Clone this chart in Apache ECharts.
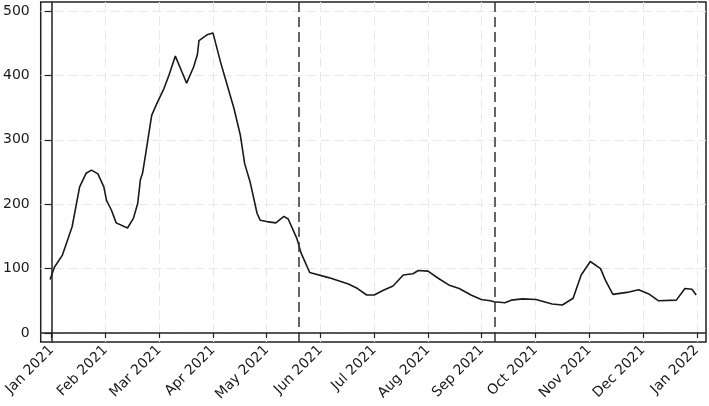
<!DOCTYPE html>
<html>
<head>
<meta charset="utf-8">
<script src="https://cdn.jsdelivr.net/npm/echarts@6/dist/echarts.min.js"></script>
<style>
	html, body {
		margin: 0;
		padding: 0;
		background: #fff;
	}
	#main {
		width: 709px;
		height: 406px;
	}
</style>
</head>
<body>
<div id="main"></div>
<script>
	// x position in months since Jan 2021 (0 = Jan 2021, 12 = Jan 2022)
	const monthPos = [-0.03, 0.05, 0.20, 0.38, 0.52, 0.64, 0.74, 0.86, 0.97, 1.02, 1.11, 1.20, 1.41, 1.52, 1.60, 1.65,
		1.69, 1.75, 1.86, 1.96, 2.09, 2.18, 2.30, 2.41, 2.51, 2.64, 2.71, 2.74, 2.89, 3.00, 3.14, 3.22, 3.39, 3.51,
		3.59, 3.69, 3.82, 3.88, 4.00, 4.17, 4.32, 4.40, 4.56, 4.64, 4.80, 5.15, 5.52, 5.69, 5.86, 6.00, 6.16, 6.35,
		6.54, 6.72, 6.82, 7.00, 7.19, 7.40, 7.58, 7.80, 7.99, 8.16, 8.23, 8.43, 8.55, 8.76, 9.01, 9.31, 9.50, 9.70,
		9.85, 10.02, 10.21, 10.30, 10.44, 10.70, 10.92, 11.12, 11.29, 11.62, 11.78, 11.91, 11.99
	]
	const values = [83, 102, 121, 165, 227, 248, 253, 247, 227, 206, 191, 171, 163, 178, 201, 238,
		248, 279, 338, 357, 380, 400, 430, 408, 388, 413, 432, 454, 463, 466, 421, 398, 349, 307,
		263, 235, 186, 175, 173, 171, 181, 177, 147, 124, 94, 86, 76, 69, 59, 59, 66, 73,
		90, 92, 97, 96, 85, 74, 69, 59, 52, 50, 48.6, 47, 51, 53, 52, 45, 43.5, 54,
		90, 111, 100, 82, 60, 63, 67, 60, 50, 51, 69, 68, 59
	]
	const tickLabels = ['Jan 2021', 'Feb 2021', 'Mar 2021', 'Apr 2021', 'May 2021', 'Jun 2021', 'Jul 2021',
		'Aug 2021', 'Sep 2021', 'Oct 2021', 'Nov 2021', 'Dec 2021', 'Jan 2022'
	]
	const yTicks = [0, 100, 200, 300, 400, 500]
	// dashed reference lines (months)
	const refLines = [4.595, 8.24]

	const seriesData = monthPos.map(function(m, i) {
		return [m, values[i]]
	})
	const xTicks = tickLabels.map(function(t, i) {
		return i
	})

	const myChart = echarts.init(document.getElementById('main'))
	myChart.setOption({
		animation: false,
		textStyle: {
			fontFamily: 'DejaVu Sans'
		},
		grid: {
			left: 38,
			right: 3,
			top: 2,
			bottom: 64,
			show: true,
			borderColor: '#222',
			borderWidth: 1.5
		},
		xAxis: {
			type: 'value',
			min: -0.204,
			max: 12.172,
			axisLine: {
				show: true,
				lineStyle: {
					color: '#222',
					width: 1.5
				}
			},
			axisTick: {
				show: true,
				length: 5,
				customValues: xTicks,
				lineStyle: {
					color: '#222',
					width: 1.2
				}
			},
			axisLabel: {
				customValues: xTicks,
				rotate: 45,
				margin: 6,
				fontSize: 14,
				color: '#1a1a1a',
				formatter: function(v) {
					return tickLabels[Math.round(v)]
				}
			},
			splitLine: {
				show: true,
				lineStyle: {
					color: '#e8e8e8',
					type: [9, 5],
					width: 1
				}
			}
		},
		yAxis: {
			type: 'value',
			min: -14,
			max: 514,
			axisLine: {
				show: true,
				lineStyle: {
					color: '#222',
					width: 1.5
				}
			},
			axisTick: {
				show: true,
				length: 7,
				customValues: yTicks,
				lineStyle: {
					color: '#222',
					width: 1.2
				}
			},
			axisLabel: {
				customValues: yTicks,
				margin: 11,
				fontSize: 14,
				color: '#1a1a1a'
			},
			splitLine: {
				show: true,
				lineStyle: {
					color: '#e8e8e8',
					type: [9, 5],
					width: 1
				}
			}
		},
		series: [{
			type: 'line',
			data: seriesData,
			symbol: 'none',
			lineStyle: {
				color: '#1a1a1a',
				width: 1.6
			},
			markLine: {
				silent: true,
				symbol: 'none',
				label: {
					show: false
				},
				lineStyle: {
					color: '#333',
					width: 1.5,
					type: [10, 5]
				},
				data: refLines.map(function(x) {
					return {
						xAxis: x
					}
				})
			}
		}]
	})
</script>
</body>
</html>
